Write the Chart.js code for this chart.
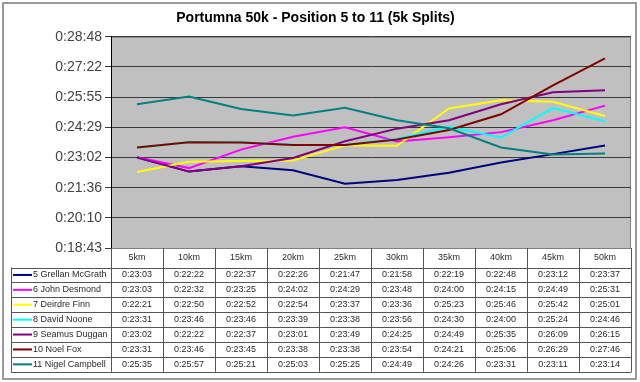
<!DOCTYPE html>
<html><head><meta charset="utf-8">
<script src="https://cdn.jsdelivr.net/npm/chart.js@4"></script>
<style>html,body{margin:0;padding:0;background:#fff;}canvas{display:block;}</style>
</head><body>
<canvas id="c" width="640" height="382"></canvas>
<script>
const categories = ['5km','10km','15km','20km','25km','30km','35km','40km','45km','50km'];
const seriesNames = ['5 Grellan McGrath','6 John Desmond','7 Deirdre Finn','8 David Noone','9 Seamus Duggan','10 Noel Fox','11 Nigel Campbell'];
const grellan = ['0:23:03','0:22:22','0:22:37','0:22:26','0:21:47','0:21:58','0:22:19','0:22:48','0:23:12','0:23:37'];
const john    = ['0:23:03','0:22:32','0:23:25','0:24:02','0:24:29','0:23:48','0:24:00','0:24:15','0:24:49','0:25:31'];
const deirdre = ['0:22:21','0:22:50','0:22:52','0:22:54','0:23:37','0:23:36','0:25:23','0:25:46','0:25:42','0:25:01'];
const david   = ['0:23:31','0:23:46','0:23:46','0:23:39','0:23:38','0:23:56','0:24:30','0:24:00','0:25:24','0:24:46'];
const seamus  = ['0:23:02','0:22:22','0:22:37','0:23:01','0:23:49','0:24:25','0:24:49','0:25:35','0:26:09','0:26:15'];
const noel    = ['0:23:31','0:23:46','0:23:45','0:23:38','0:23:38','0:23:54','0:24:21','0:25:06','0:26:29','0:27:46'];
const nigel   = ['0:25:35','0:25:57','0:25:21','0:25:03','0:25:25','0:24:49','0:24:26','0:23:31','0:23:11','0:23:14'];
const yTickSeconds = [1123.2,1209.6,1296,1382.4,1468.8,1555.2,1641.6,1728];
const yTickLabels = ['0:18:43','0:20:10','0:21:36','0:23:02','0:24:29','0:25:55','0:27:22','0:28:48'];
const seriesColors = ['#000080','#FF00FF','#FFFF00','#00FFFF','#800080','#800000','#008080'];

const seriesData = [grellan, john, deirdre, david, seamus, noel, nigel];
function toSeconds(s){const p=s.split(':').map(Number);return p[0]*3600+p[1]*60+p[2];}

const FONT = "'Liberation Sans', Arial, sans-serif";
const HEADER_H = 19.5, ROW_H = 14.9, TABLE_LEFT = 11;

const framePlugin = {
  id:'frame',
  beforeDraw(chart){
    const ctx=chart.ctx, a=chart.chartArea;
    ctx.save();
    ctx.fillStyle='#fff';ctx.fillRect(0,0,chart.width,chart.height);
    ctx.strokeStyle='#9a9a9a';ctx.lineWidth=2;
    ctx.strokeRect(3,3,chart.width-7,chart.height-6);
    ctx.fillStyle='#c0c0c0';
    ctx.fillRect(a.left,a.top,a.right-a.left,a.bottom-a.top);
    ctx.strokeStyle='#808080';ctx.lineWidth=1;
    ctx.strokeRect(a.left+0.5,a.top+0.5,a.right-a.left-1,a.bottom-a.top);
    ctx.restore();
  }
};

const tablePlugin = {
  id:'dataTable',
  afterDraw(chart){
    const ctx=chart.ctx, a=chart.chartArea, xs=chart.scales.x;
    const colW=(a.right-a.left)/categories.length;
    const hb=a.bottom+HEADER_H;
    const tb=hb+ROW_H*seriesNames.length;
    ctx.save();
    ctx.strokeStyle='#555';ctx.lineWidth=1;
    ctx.beginPath();
    for(let i=0;i<=categories.length;i++){
      const x=Math.round(a.left+i*colW)+0.5;
      ctx.moveTo(x,a.bottom);ctx.lineTo(x,tb);
    }
    ctx.moveTo(TABLE_LEFT+0.5,hb);ctx.lineTo(TABLE_LEFT+0.5,tb);
    for(let r=0;r<=seriesNames.length;r++){
      const y=Math.round(hb+r*ROW_H)+0.5;
      ctx.moveTo(TABLE_LEFT,y);ctx.lineTo(a.right+0.5,y);
    }
    ctx.stroke();
    ctx.font='9px '+FONT;ctx.textBaseline='middle';
    seriesNames.forEach((name,r)=>{
      const cy=hb+r*ROW_H+ROW_H/2;
      ctx.strokeStyle=seriesColors[r];ctx.lineWidth=2;
      ctx.beginPath();ctx.moveTo(TABLE_LEFT+2,cy);ctx.lineTo(TABLE_LEFT+21,cy);ctx.stroke();
      ctx.fillStyle='#2a2a2a';ctx.textAlign='left';
      ctx.fillText(name,TABLE_LEFT+22,cy);
      ctx.textAlign='center';
      seriesData[r].forEach((v,i)=>{
        ctx.fillText(v,xs.getPixelForValue(i),cy);
      });
    });
    ctx.restore();
  }
};

new Chart(document.getElementById('c'),{
  type:'line',
  data:{
    labels:categories,
    datasets:seriesNames.map((n,i)=>({
      label:n,
      data:seriesData[i].map(toSeconds),
      borderColor:seriesColors[i],
      backgroundColor:seriesColors[i],
      borderWidth:2,
      pointRadius:0,
      tension:0,
      fill:false,
      order:seriesNames.length-i
    }))
  },
  options:{
    responsive:false,
    animation:false,
    devicePixelRatio:1,
    layout:{padding:{left:0,right:9,top:0,bottom:0}},
    plugins:{
      legend:{display:false},
      tooltip:{enabled:false},
      title:{display:true,text:'Portumna 50k - Position 5 to 11 (5k Splits)',color:'#000',
        font:{family:FONT,size:14,weight:'bold'},padding:{top:10,bottom:10}}
    },
    scales:{
      x:{
        offset:true,
        grid:{display:false,drawTicks:false},
        border:{display:true,color:'#808080'},
        ticks:{font:{family:FONT,size:9},color:'#2a2a2a',padding:4,maxRotation:0,autoSkip:false},
        afterFit(s){s.height=134;}
      },
      y:{
        min:yTickSeconds[0],max:yTickSeconds[yTickSeconds.length-1],
        afterBuildTicks(s){s.ticks=yTickSeconds.map(v=>({value:v}));},
        grid:{color:'#3a3a3a',tickLength:6,drawTicks:true},
        border:{display:true,color:'#000'},
        ticks:{font:{family:FONT,size:14},color:'#444',padding:3,
          callback:(v,i)=>yTickLabels[i]},
        afterFit(s){s.width=111;}
      }
    }
  },
  plugins:[framePlugin,tablePlugin]
});
</script>
</body></html>
